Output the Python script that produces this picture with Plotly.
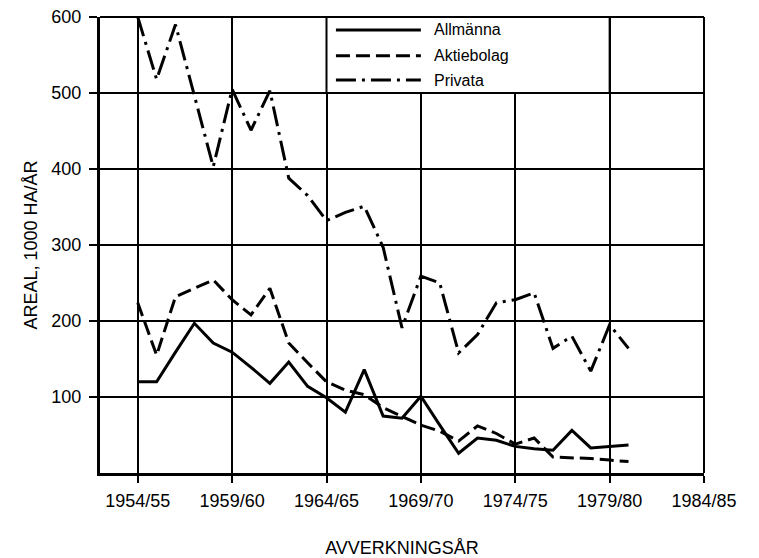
import plotly.graph_objects as go

years = list(range(1954, 1981))
allmanna = [120, 120, 159, 197, 171, 159, 139, 118, 146, 114, 99, 80, 136, 75, 72,
            101, 63, 26, 46, 43, 35, 32, 30, 56, 33, 35, 37]
aktiebolag = [224, 155, 232, 243, 254, 228, 208, 243, 171, 145, 120, 109, 103, 86, 74,
              63, 55, 42, 62, 52, 38, 46, 21, 20, 19, 17, 15]
privata = [600, 518, 590, 497, 403, 505, 451, 503, 388, 365, 332, 343, 351, 297, 191,
           259, 250, 158, 182, 224, 228, 237, 164, 180, 134, 195, 164]

series_names = ["Allmänna", "Aktiebolag", "Privata"]
x_tickvals = [1954, 1959, 1964, 1969, 1974, 1979, 1984]
x_ticktext = ["1954/55", "1959/60", "1964/65", "1969/70", "1974/75", "1979/80", "1984/85"]
y_tickvals = [100, 200, 300, 400, 500, 600]

FONT = "Liberation Sans"
dashes = ["solid", "14px,6px", "20px,6px,3px,6px"]
data = [allmanna, aktiebolag, privata]

fig = go.Figure()
for name, vals, dash in zip(series_names, data, dashes):
    fig.add_trace(go.Scatter(x=years, y=vals, mode="lines", name=name,
                             line=dict(color="black", width=3, dash=dash),
                             showlegend=False))

shapes = []
# legend box (covers gridlines in the top cell row)
shapes.append(dict(type="rect", xref="x", yref="y", x0=1964, x1=1979, y0=500, y1=600,
                   fillcolor="white", line=dict(color="black", width=2), layer="between"))
# top and right frame
shapes.append(dict(type="line", xref="paper", yref="paper", x0=0, x1=1, y0=1, y1=1,
                   line=dict(color="black", width=2)))
shapes.append(dict(type="line", xref="paper", yref="paper", x0=1, x1=1, y0=0, y1=1,
                   line=dict(color="black", width=2)))

legend_y = [583, 549, 517]
annotations = []
for name, dash, ly in zip(series_names, dashes, legend_y):
    shapes.append(dict(type="line", xref="x", yref="y", x0=1964.5, x1=1969.0, y0=ly, y1=ly,
                       line=dict(color="black", width=3, dash=dash)))
    annotations.append(dict(x=1969.6, y=ly, xref="x", yref="y", text=name, showarrow=False,
                            xanchor="left", yanchor="middle",
                            font=dict(family=FONT, size=16, color="black")))

# page body has an 8px default margin, so the figure is 8px smaller and margins compensate
fig.update_layout(
    width=751, height=550,
    margin=dict(l=92, r=55, t=9, b=85),
    paper_bgcolor="white", plot_bgcolor="white",
    shapes=shapes, annotations=annotations,
    font=dict(family=FONT, size=18, color="black"),
)
fig.update_xaxes(range=[1952, 1984], tickvals=x_tickvals, ticktext=x_ticktext,
                 automargin=False, ticklabeloverflow="allow",
                 showgrid=True, gridcolor="black", gridwidth=1.5,
                 showline=True, linecolor="black", linewidth=3,
                 ticks="outside", ticklen=7, tickwidth=2, tickcolor="black",
                 ticklabelstandoff=2,
                 tickfont=dict(family=FONT, size=18),
                 title=dict(text="AVVERKNINGSÅR", font=dict(family=FONT, size=18), standoff=34),
                 zeroline=False)
fig.update_yaxes(range=[0, 600], tickvals=y_tickvals,
                 automargin=False, ticklabeloverflow="allow",
                 showgrid=True, gridcolor="black", gridwidth=1.5,
                 showline=True, linecolor="black", linewidth=3,
                 ticks="outside", ticklen=8, tickwidth=2, tickcolor="black",
                 ticklabelstandoff=4,
                 tickfont=dict(family=FONT, size=18),
                 title=dict(text="AREAL, 1000 HA/ÅR", font=dict(family=FONT, size=18), standoff=10),
                 zeroline=False)

fig.write_html("out.html")
